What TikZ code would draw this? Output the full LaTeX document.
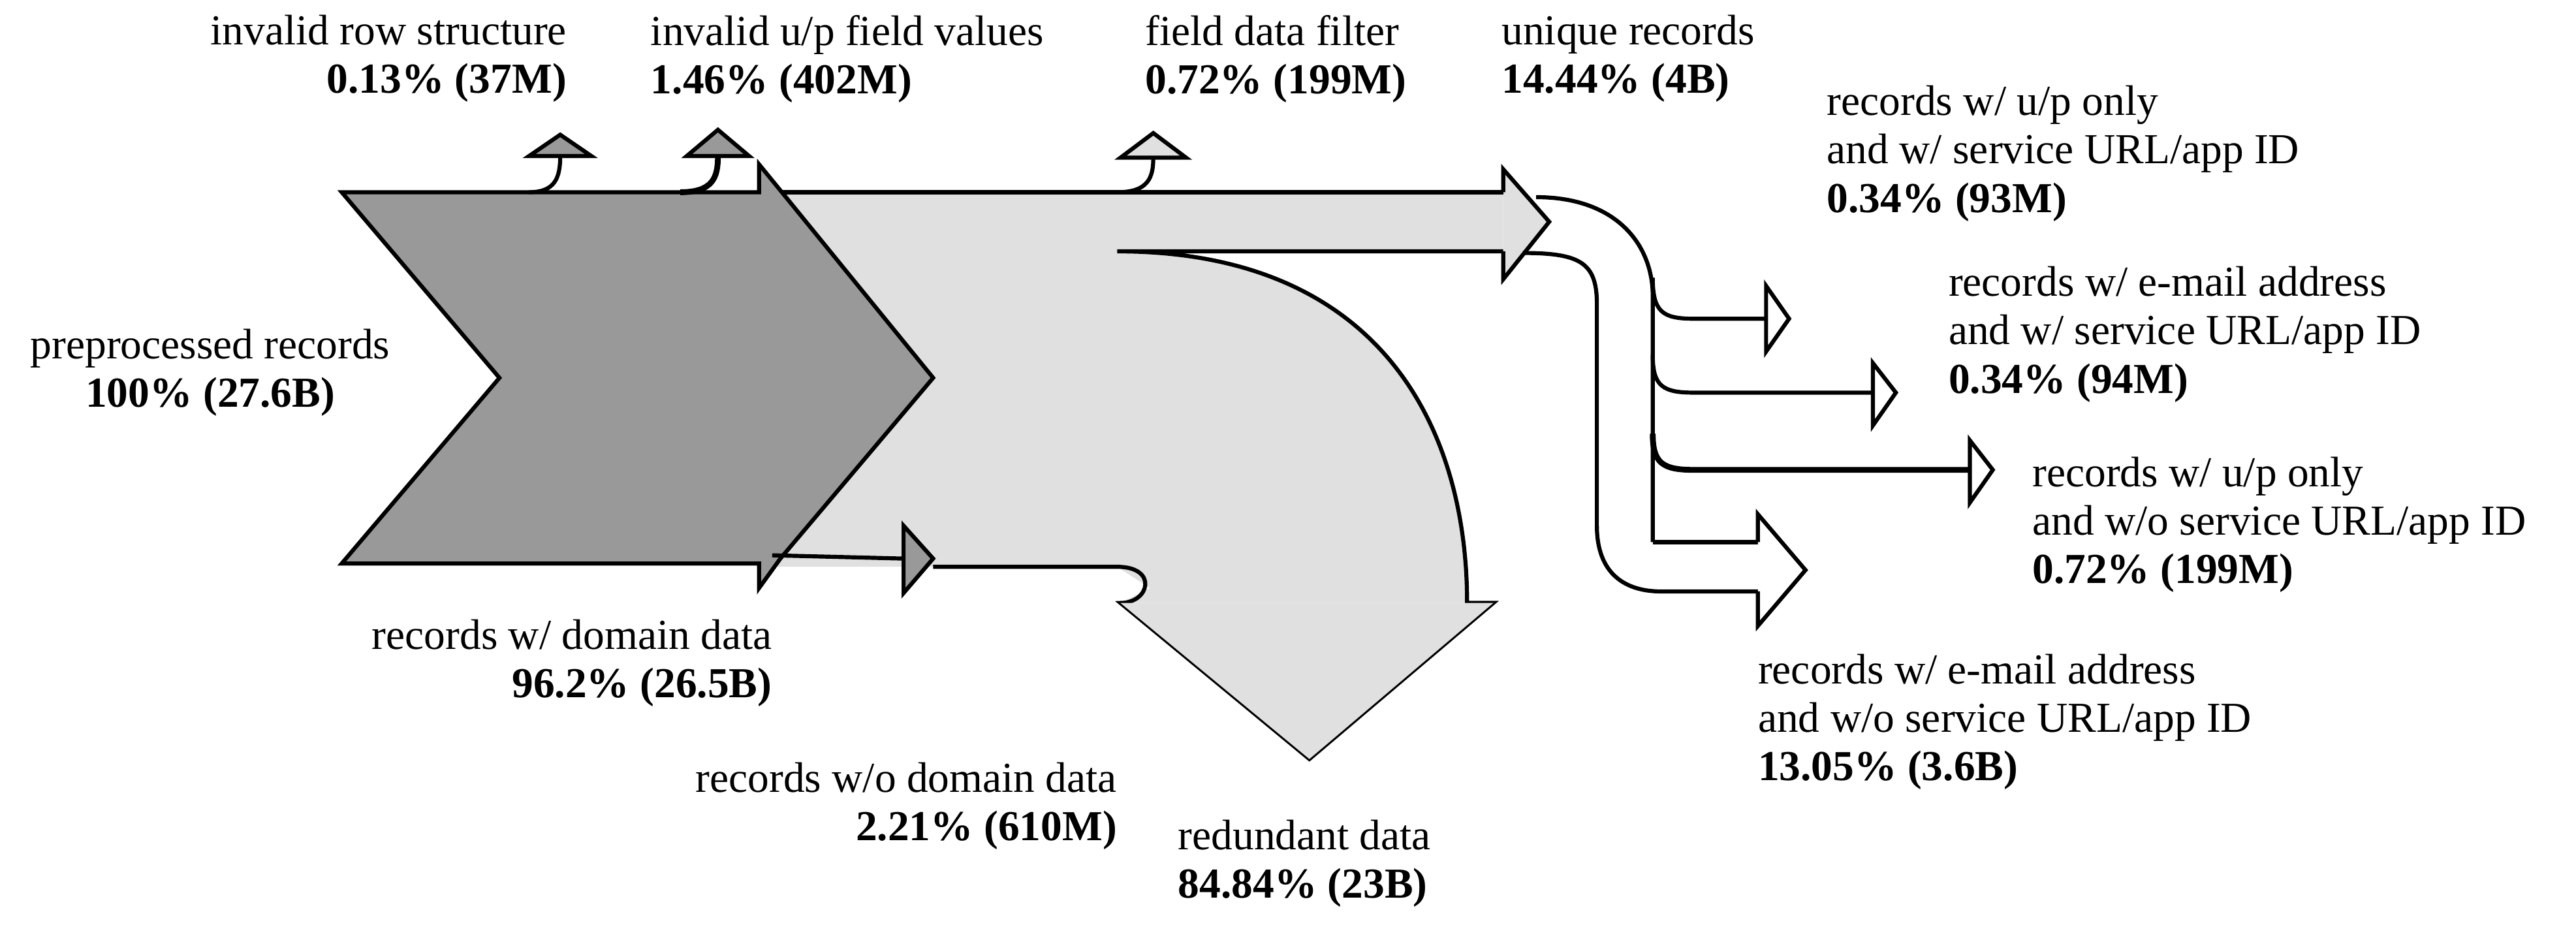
\documentclass[tikz,border=0pt]{standalone}
\usepackage{fontspec}
\setmainfont{Liberation Serif}
\usetikzlibrary{positioning}
\definecolor{darkflow}{gray}{0.6}
\definecolor{lightflow}{gray}{0.88}
\begin{document}
\begin{tikzpicture}[x=0.05cm, y=-0.05cm, line join=miter,
    flow/.style={draw=black, line width=3.5pt},
    lbl/.style={inner sep=0pt, font=\fontsize{37}{42}\selectfont},
    lblL/.style={lbl, align=left, anchor=north west},
    lblR/.style={lbl, align=right, anchor=north east},
    lblC/.style={lbl, align=center, anchor=north}]
    \useasboundingbox (0,0) rectangle (1568,564);
    % light flow (after domain filter)
    \fill[lightflow] (462,117) -- (915,117) -- (915,153) -- (680,153)
        .. controls (840,153) and (893,260) .. (893,367) -- (682,367)
        -- (700,358) -- (680,345) -- (462,345) -- cycle;
    \draw[flow, fill=lightflow] (915,117) -- (915,103) -- (943,135) -- (915,170) -- (915,153);
    \draw[flow] (462,117) -- (915,117);
    \draw[flow] (915,153) -- (680,153) .. controls (840,153) and (893,260) .. (893,367)
        -- (909,367) -- (797,462) -- (682,367) .. controls (700,367) and (705,345) .. (680,345) -- (568,345);
    \fill[lightflow] (893,367) -- (909,367) -- (797,462) -- (682,367) -- cycle;
    % dark flow (preprocessed)
    \draw[flow, fill=darkflow] (208,117) -- (462,117) -- (462,100) -- (480,122) -- (568,230)
        -- (475,340) -- (462,358) -- (462,343) -- (208,343) -- (304,230) -- cycle;
    % small outflows on top
    \draw[flow] (322,117) .. controls (338,117) and (341,108) .. (341,95);
    \draw[flow, fill=darkflow] (322,95) -- (341,82) -- (360,95) -- cycle;
    \draw[flow, line width=5pt] (414,117) .. controls (434,117) and (437,108) .. (437,95);
    \draw[flow, fill=darkflow] (418,95) -- (437,79) -- (456,95) -- cycle;
    \draw[flow] (680,117) .. controls (699,117) and (702,108) .. (702,96);
    \draw[flow, fill=lightflow] (682,96) -- (702,81) -- (722,96) -- cycle;
    % w/o domain data
    \draw[flow] (470,338) -- (550,340);
    \draw[flow, fill=darkflow] (550,320) -- (568,340) -- (550,361) -- cycle;
    % unique records split
    \draw[flow] (935,120) .. controls (985,120) and (1006,150) .. (1006,180) -- (1006,330);
    \draw[flow] (927,154) .. controls (962,154) and (972,160) .. (972,185) -- (972,320)
        .. controls (972,350) and (990,360) .. (1011,360) -- (1070,360);
    \draw[flow] (1006,330) -- (1070,330);
    \draw[flow, fill=white] (1070,330) -- (1070,313) -- (1099,347) -- (1070,381) -- (1070,360);
    \draw[flow] (1006,169) .. controls (1006,190) and (1012,194) .. (1031,194) -- (1075,194);
    \draw[flow, fill=white] (1075,174) -- (1089,194) -- (1075,214) -- cycle;
    \draw[flow] (1006,216) .. controls (1006,235) and (1012,239) .. (1031,239) -- (1140,239);
    \draw[flow, fill=white] (1140,221) -- (1154,239) -- (1140,259) -- cycle;
    \draw[flow, line width=5pt] (1006,264) .. controls (1006,282) and (1012,286) .. (1031,286) -- (1199,286);
    \draw[flow, fill=white] (1199,268) -- (1213,286) -- (1199,306) -- cycle;
    % labels
    \node[lblR] (rowstruct) at (345,9) {invalid row structure\\\textbf{0.13\% (37M)}};
    \node[lblL] (upfield) at (396,9) {invalid u/p field values\\\textbf{1.46\% (402M)}};
    \node[lblL] (filter) at (697,9) {field data filter\\\textbf{0.72\% (199M)}};
    \node[lblL] (unique) at (914,9) {unique records\\\textbf{14.44\% (4B)}};
    \node[lblC] (prepro) at (128,200) {preprocessed records\\\textbf{100\% (27.6B)}};
    \node[lblR] (domain) at (470,377) {records w/ domain data\\\textbf{96.2\% (26.5B)}};
    \node[lblR] (nodomain) at (680,464) {records w/o domain data\\\textbf{2.21\% (610M)}};
    \node[lblL] (redundant) at (717,499) {redundant data\\\textbf{84.84\% (23B)}};
    \node[lblL] (upsvc) at (1112,52) {records w/ u/p only\\and w/ service URL/app ID\\\textbf{0.34\% (93M)}};
    \node[lblL] (mailsvc) at (1186,162) {records w/ e-mail address\\and w/ service URL/app ID\\\textbf{0.34\% (94M)}};
    \node[lblL] (upnosvc) at (1237,278) {records w/ u/p only\\and w/o service URL/app ID\\\textbf{0.72\% (199M)}};
    \node[lblL] (mailnosvc) at (1070,398) {records w/ e-mail address\\and w/o service URL/app ID\\\textbf{13.05\% (3.6B)}};
\end{tikzpicture}
\end{document}
